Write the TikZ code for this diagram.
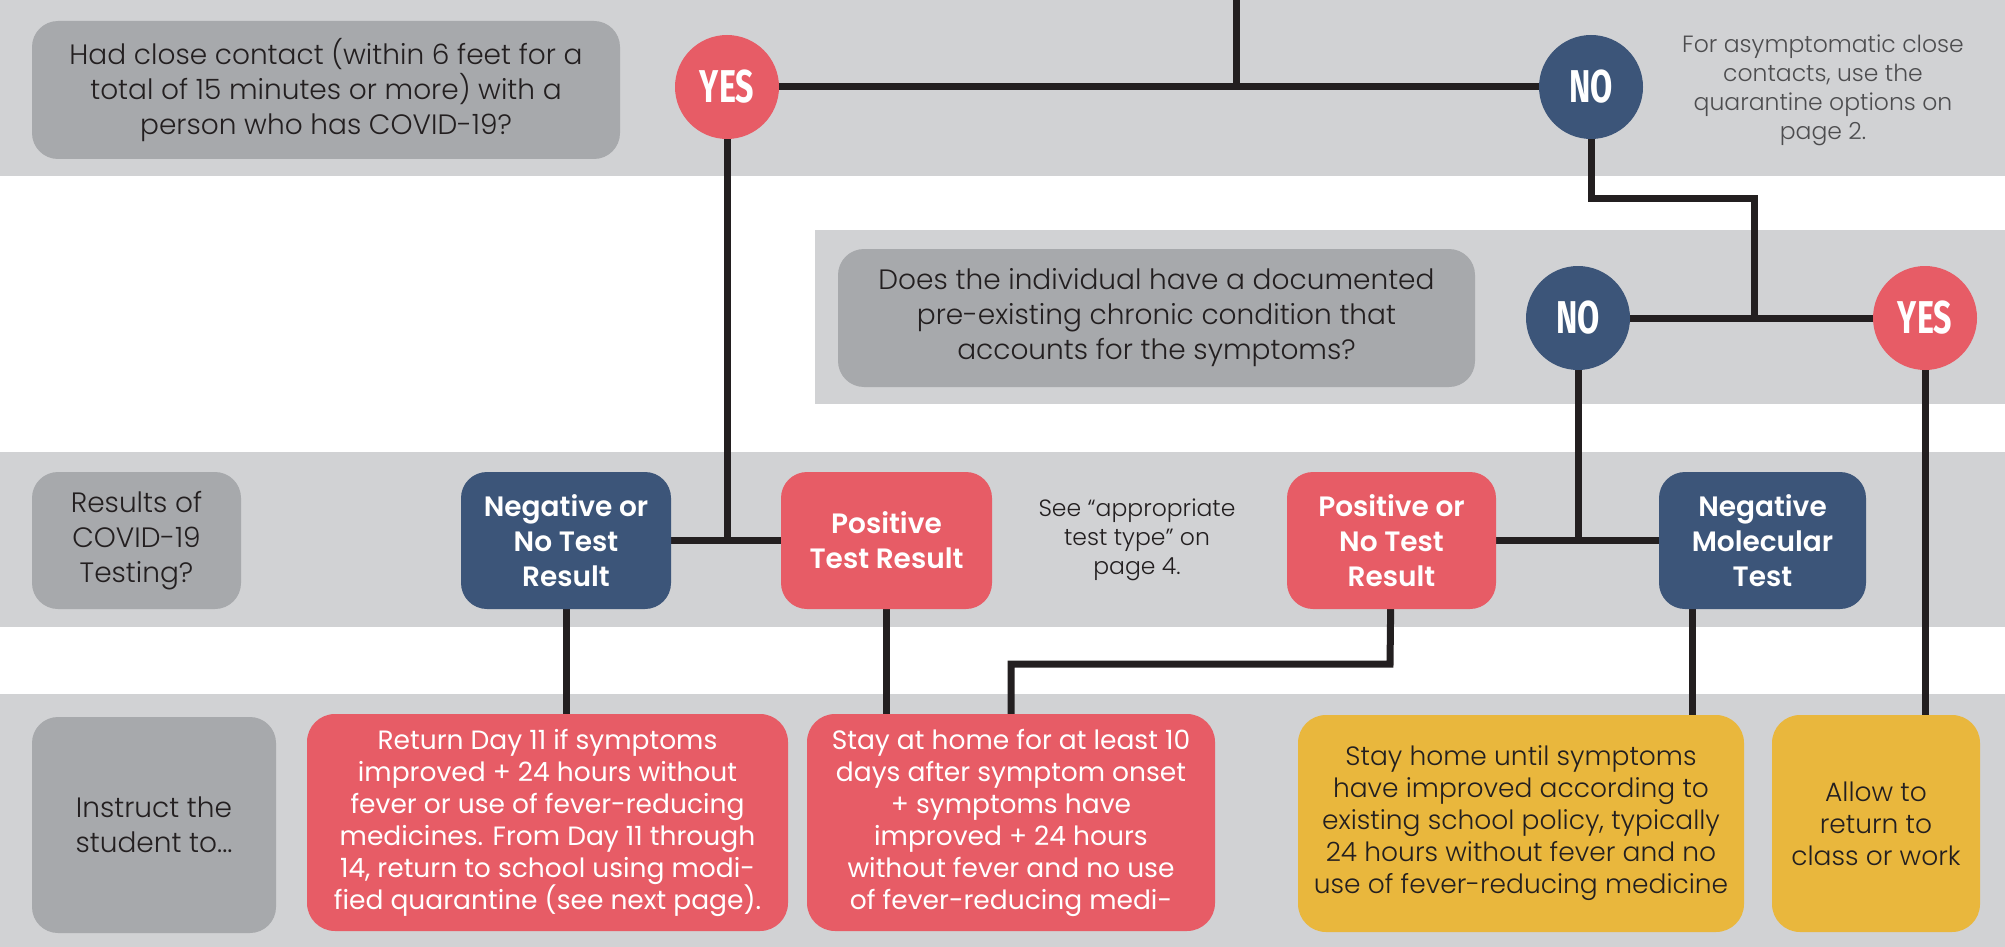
\documentclass[tikz,border=0pt]{standalone}
\usepackage{fontspec}
\setmainfont{Poppins}
\newfontfamily\yesfont{Fira Sans}
\IfFontExistsTF{Poppins Light}{\newfontfamily\lightfont{Poppins Light}}{\newfontfamily\lightfont{Poppins}}
\IfFontExistsTF{Poppins SemiBold}{\newfontfamily\semifont{Poppins SemiBold}}{\newcommand\semifont{\bfseries}}
\usetikzlibrary{calc}
\pgfdeclarelayer{bands}
\pgfdeclarelayer{wires}
\pgfsetlayers{bands,wires,main}
\definecolor{bandgray}{HTML}{D1D2D4}
\definecolor{boxgray}{HTML}{A7A9AC}
\definecolor{cvred}{HTML}{E75C66}
\definecolor{cvblue}{HTML}{3C5579}
\definecolor{cvyellow}{HTML}{E9B73D}
\definecolor{ink}{HTML}{231F20}
\definecolor{notegray}{HTML}{4D4D4F}
\tikzset{
  bandrect/.style={fill=bandgray, draw=none},
  qbox/.style={rectangle, rounded corners=26pt, fill=boxgray, text=ink, align=center, inner sep=0pt,
    font=\lightfont\fontsize{28}{35}\selectfont},
  hbox/.style={rectangle, rounded corners=26pt, text=white, align=center, inner sep=0pt,
    minimum height=137pt, font=\semifont\fontsize{28}{35}\selectfont},
  abox/.style={rectangle, rounded corners=28pt, align=center, inner sep=0pt,
    minimum height=217pt, font=\fontsize{26.5}{32}\selectfont},
  darktext/.style={text=ink, font=\lightfont\fontsize{26.5}{32}\selectfont},
  yesno/.style={circle, minimum size=104pt, inner sep=0pt, text=white,
    font=\yesfont\fontsize{46}{46}\selectfont\bfseries},
  note/.style={align=center, text=notegray, inner sep=0pt, font=\lightfont\fontsize{23.5}{29}\selectfont},
  wire/.style={draw=ink, line width=7pt},
}
\begin{document}
\begin{tikzpicture}[x=1pt, y=-1pt]
\useasboundingbox (0,0) rectangle (2005,947);
\begin{pgfonlayer}{bands}
  \fill[bandrect] (0,0) rectangle (2005,176);
  \fill[bandrect] (815,230) rectangle (2005,404);
  \fill[bandrect] (0,452) rectangle (2005,627);
  \fill[bandrect] (0,694) rectangle (2005,947);
\end{pgfonlayer}

% row 1
\node[qbox, minimum width=588pt, minimum height=138pt] (q1) at (326,90)
  {Had close contact (within 6 feet for a\\ total of 15 minutes or more) with a\\ person who has COVID-19?};
\node[yesno, fill=cvred] (yes1) at (727,87) {\scalebox{0.7}[1]{YES}};
\node[yesno, fill=cvblue] (no1) at (1591,87) {\scalebox{0.7}[1]{NO}};
\node[note] (asym) at (1823,90)
  {For asymptomatic close\\ contacts, use the\\ quarantine options on\\ page 2.};
\coordinate (top) at (1236,0);
\coordinate (bend1) at (1754,198);

% row 2
\node[qbox, minimum width=637pt, minimum height=138pt] (q2) at (1156.5,318)
  {Does the individual have a documented\\ pre-existing chronic condition that\\ accounts for the symptoms?};
\node[yesno, fill=cvblue] (no2) at (1578,318) {\scalebox{0.7}[1]{NO}};
\node[yesno, fill=cvred] (yes2) at (1925,318) {\scalebox{0.7}[1]{YES}};

% row 3
\node[qbox, minimum width=209pt, minimum height=137pt] (res) at (136.5,540.5)
  {Results of\\ COVID-19\\ Testing?};
\node[hbox, fill=cvblue, minimum width=210pt] (negno) at (566,540.5)
  {Negative or\\ No Test\\ Result};
\node[hbox, fill=cvred, minimum width=211pt] (pos) at (886.5,540.5)
  {Positive\\ Test Result};
\node[note, text=ink] (seetest) at (1137,540)
  {See “appropriate\\ test type” on\\ page 4.};
\node[hbox, fill=cvred, minimum width=209pt] (posno) at (1391.5,540.5)
  {Positive or\\ No Test\\ Result};
\node[hbox, fill=cvblue, minimum width=207pt] (negmol) at (1762.5,540.5)
  {Negative\\ Molecular\\ Test};

% row 4
\node[qbox, minimum width=244pt, minimum height=216pt] (instr) at (154,825)
  {Instruct the\\ student to...};
\node[abox, fill=cvred, text=white, minimum width=481pt] (ret) at (547.5,822.5)
  {Return Day 11 if symptoms\\ improved + 24 hours without\\ fever or use of fever-reducing\\
   medicines. From Day 11 through\\ 14, return to school using modi-\\ fied quarantine (see next page).};
\node[abox, fill=cvred, text=white, minimum width=408pt] (stay10) at (1011,822.5)
  {Stay at home for at least 10\\ days after symptom onset\\ + symptoms have\\ improved + 24 hours\\
   without fever and no use\\ of fever-reducing medi-};
\node[abox, darktext, fill=cvyellow, minimum width=446pt] (stayhome) at (1521,823.5)
  {Stay home until symptoms\\ have improved according to\\ existing school policy, typically\\
   24 hours without fever and no\\ use of fever-reducing medicine};
\node[abox, darktext, fill=cvyellow, minimum width=208pt] (allow) at (1876,823.5)
  {Allow to\\ return to\\ class or work};
\coordinate (molout) at (1692,609);
\coordinate (bend2) at (1390,664);

\begin{pgfonlayer}{wires}
  \draw[wire] (yes1.center) -- (no1.center);
  \draw[wire] (top) -- (top |- yes1.center);
  \draw[wire] (no1.center) |- (bend1) -- (bend1 |- no2.center);
  \draw[wire] (no2.center) -- (yes2.center);
  \draw[wire] (yes1.center) -- (yes1.center |- negno.center);
  \draw[wire] (negno.center) -- (pos.center);
  \draw[wire] (no2.center) -- (no2.center |- posno.center);
  \draw[wire] (posno.center) -- (negmol.center);
  \draw[wire] (yes2.center) -- (yes2.center |- allow.north);
  \draw[wire] (negno.center) -- (negno.center |- ret.north);
  \draw[wire] (pos.center) -- (pos.center |- stay10.north);
  \draw[wire] (posno.center) -- (bend2) -| (stay10.north);
  \draw[wire] (molout |- negmol.center) -- (molout |- stayhome.north);
\end{pgfonlayer}
\end{tikzpicture}
\end{document}
